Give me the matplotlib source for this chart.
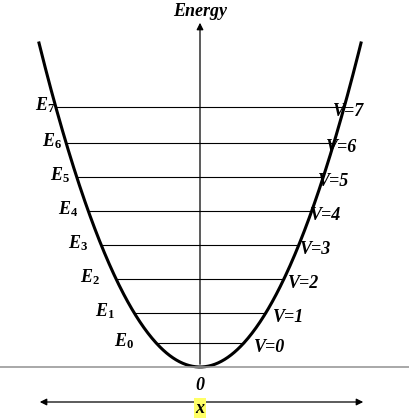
import numpy as np
import matplotlib.pyplot as plt

plt.rcParams["mathtext.fontset"] = "custom"
plt.rcParams["mathtext.it"] = "Liberation Serif:italic:bold"
plt.rcParams["mathtext.rm"] = "Liberation Serif:bold"

# energy level heights above the potential minimum (pixels of the reference)
levels = [24, 54, 88, 122, 156, 190, 224, 260]
e_labels = [f"$E_{n}$" for n in range(8)]
v_labels = [f"V={n}" for n in range(8)]

K = 0.0125  # curvature of the potential curve

fig = plt.figure(figsize=(4.09, 4.19), dpi=100)
ax = fig.add_axes([0, 0, 1, 1])
ax.set_xlim(-200, 209)
ax.set_ylim(-52, 367)
ax.axis("off")

font = dict(family="Liberation Serif", fontweight="bold", fontstyle="italic", fontsize=13)

x = np.linspace(-161, 161, 400)
ax.plot(x, K * x ** 2, color="black", lw=2.2)
ax.axhline(0, color="#999999", lw=1.2)

ax.annotate("", xy=(0, 347), xytext=(0, 0),
            arrowprops=dict(arrowstyle="-|>", color="black", lw=0.9, mutation_scale=10))
ax.text(0, 355, "Energy", ha="center", va="center", **font)

for n, h in enumerate(levels):
    hw = np.sqrt(h / K)
    ax.plot([-hw, hw], [h, h], color="black", lw=0.8)
    ax.text(-hw - 22 + 3 * n, h + 2, e_labels[n], ha="right", va="center", fontsize=13)
    ax.text(hw + 10 - 3 * n, h - 4, v_labels[n], ha="left", va="center", **font)

ax.text(0, -18, "0", ha="center", va="center", **font)
ax.annotate("", xy=(-163, -35), xytext=(166, -35),
            arrowprops=dict(arrowstyle="<|-|>", color="black", lw=0.9, mutation_scale=10))
ax.text(0, -41, "x", ha="center", va="center",
        bbox=dict(facecolor="#ffff66", edgecolor="none", pad=1), **font)

fig.savefig("out.png", dpi=100)
